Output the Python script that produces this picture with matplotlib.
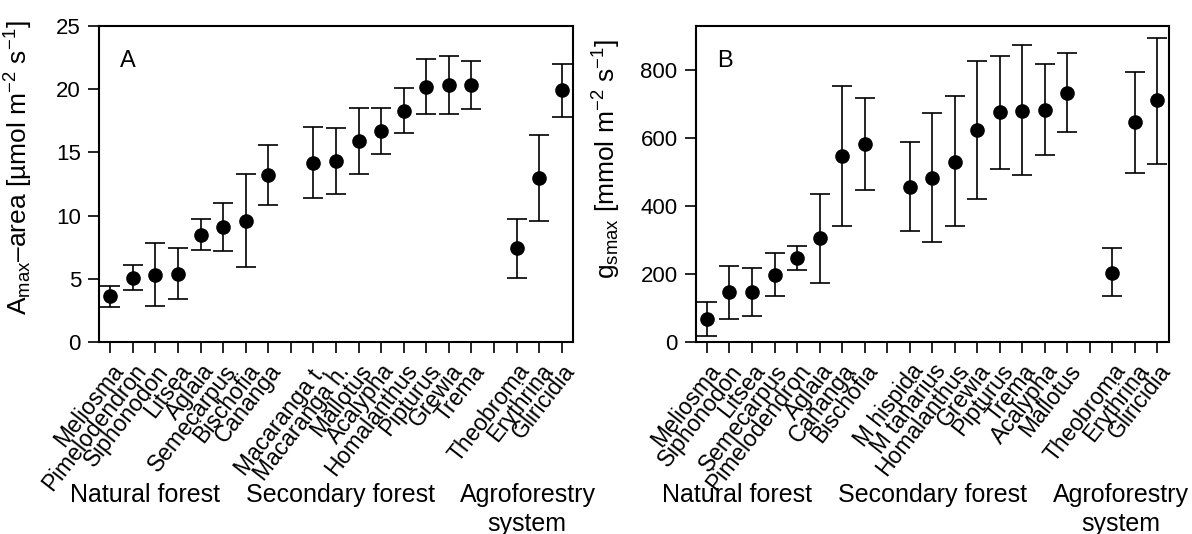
import matplotlib
matplotlib.use('Agg')
import matplotlib.pyplot as plt
import numpy as np

plt.rcParams['font.family'] = ['Liberation Sans', 'DejaVu Sans']
plt.rcParams['mathtext.fontset'] = 'custom'
plt.rcParams['mathtext.rm'] = 'Liberation Sans'
plt.rcParams['mathtext.it'] = 'Liberation Sans'

groups = ['Natural forest', 'Secondary forest', 'Agroforestry', 'system']
group_sizes = [8, 8, 3]

# panel A: Amax-area
a_species = ['Meliosma', 'Pimelodendron', 'Siphonodon', 'Litsea', 'Aglaia',
             'Semecarpus', 'Bischofia', 'Cananga',
             'Macaranga t.', 'Macaranga h.', 'Mallotus', 'Acalypha',
             'Homalanthus', 'Pipturus', 'Grewia', 'Trema',
             'Theobroma', 'Erythrina', 'Gliricidia']
a_mean = [3.6, 5.1, 5.3, 5.4, 8.5, 9.1, 9.6, 13.2,
          14.2, 14.3, 15.9, 16.7, 18.3, 20.2, 20.3, 20.3,
          7.4, 13.0, 19.9]
a_upper = [4.4, 6.1, 7.8, 7.4, 9.7, 11.0, 13.3, 15.6,
           17.0, 16.9, 18.5, 18.5, 20.1, 22.4, 22.6, 22.2,
           9.7, 16.4, 22.0]
a_lower = [2.8, 4.1, 2.85, 3.4, 7.3, 7.2, 5.9, 10.8,
           11.4, 11.7, 13.3, 14.9, 16.5, 18.0, 18.0, 18.4,
           5.1, 9.6, 17.8]

# panel B: gsmax
g_species = ['Meliosma', 'Siphonodon', 'Litsea', 'Semecarpus', 'Pimelodendron',
             'Aglaia', 'Cananga', 'Bischofia',
             'M hispida', 'M tanarius', 'Homalanthus', 'Grewia',
             'Pipturus', 'Trema', 'Acalypha', 'Mallotus',
             'Theobroma', 'Erythrina', 'Gliricidia']
g_mean = [67, 146, 146, 197, 247, 305, 547, 582,
          456, 482, 531, 623, 676, 681, 684, 733,
          204, 646, 712]
g_upper = [117, 225, 219, 261, 283, 436, 753, 717,
           588, 673, 724, 827, 842, 875, 819, 850,
           276, 795, 895]
g_lower = [18, 68, 76, 135, 211, 174, 341, 448,
           327, 294, 341, 421, 509, 490, 550, 618,
           134, 497, 525]


def positions(sizes):
    pos = []
    start = 0
    for n in sizes:
        pos.extend(range(start, start + n))
        start += n + 1
    return np.array(pos), start - 1


def draw_panel(ax, species, mean, upper, lower, letter, ylabel, ylim, yticks,
               group_x, label_xy):
    pos, n_slots = positions(group_sizes)
    mean = np.array(mean)
    err = [mean - np.array(lower), np.array(upper) - mean]
    ax.errorbar(pos, mean, yerr=err, fmt='o', color='black', ms=9.5,
                elinewidth=1.2, capsize=7, capthick=1.2)

    labels = [''] * n_slots
    for p, s in zip(pos, species):
        labels[p] = s
    ax.set_xticks(np.arange(n_slots))
    ax.set_xticklabels(labels, rotation=52, ha='right', va='top',
                       rotation_mode='anchor', fontsize=16.5)
    ax.set_xlim(-0.5, n_slots - 0.5)
    ax.set_ylim(*ylim)
    ax.set_yticks(yticks)
    ax.tick_params(axis='both', direction='out', length=8, width=1.2,
                   pad=5)
    ax.tick_params(axis='y', labelsize=16)
    for sp in ax.spines.values():
        sp.set_linewidth(1.5)

    ax.set_ylabel(ylabel, fontsize=19)
    ax.yaxis.set_label_coords(*label_xy)
    ax.text(0.045, 0.87, letter, transform=ax.transAxes, fontsize=17,
            ha='left', va='baseline')

    # group names under the species labels
    ys = [-0.506, -0.506, -0.506, -0.598]
    for gx, gy, g in zip(group_x, ys, groups):
        ax.text(gx, gy, g, transform=ax.transAxes, fontsize=18,
                ha='center', va='baseline')


def main():
    fig = plt.figure(figsize=(11.92, 5.34), dpi=100)
    ax1 = fig.add_axes([0.0831, 0.3596, 0.3976, 0.5917])
    ax2 = fig.add_axes([0.5836, 0.3596, 0.3969, 0.5917])

    draw_panel(ax1, a_species, a_mean, a_upper, a_lower, 'A',
               r'A$_{\mathrm{max}}$–area [µmol m$^{\mathrm{-2}}$ s$^{\mathrm{-1}}$]',
               (0, 25), [0, 5, 10, 15, 20, 25],
               [0.096, 0.51, 0.904, 0.903], (-0.135, 0.55))
    draw_panel(ax2, g_species, g_mean, g_upper, g_lower, 'B',
               r'g$_{\mathrm{smax}}$ [mmol m$^{\mathrm{-2}}$ s$^{\mathrm{-1}}$]',
               (0, 930), [0, 200, 400, 600, 800],
               [0.087, 0.50, 0.90, 0.899], (-0.154, 0.58))

    fig.savefig('out.png', dpi=100)


if __name__ == "__main__":
    main()
